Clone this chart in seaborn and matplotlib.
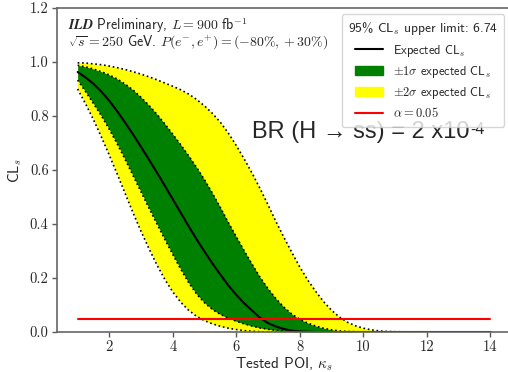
import matplotlib
matplotlib.use('Agg')
import matplotlib.pyplot as plt
import seaborn as sns
from matplotlib.patches import Patch
from matplotlib.lines import Line2D

# --- Data ---
poi = [1.0, 1.25, 1.5, 1.75, 2.0, 2.25, 2.5, 2.75, 3.0, 3.25, 3.5, 3.75, 4.0, 4.25,
       4.5, 4.75, 5.0, 5.25, 5.5, 5.75, 6.0, 6.25, 6.5, 6.75, 7.0, 7.25, 7.5, 7.75,
       8.0, 8.25, 8.5, 8.75, 9.0, 9.25, 9.5, 9.75, 10.0, 10.25, 10.5, 10.75, 11.0,
       12.0, 13.0, 14.0]


def pad(vals):
    # curves sit at zero for the rest of the scan
    return vals + [0.0] * (len(poi) - len(vals))


cls_expected = pad([0.963, 0.943, 0.919, 0.89, 0.856, 0.817, 0.775, 0.731, 0.685, 0.638,
                    0.59, 0.541, 0.491, 0.441, 0.391, 0.343, 0.297, 0.253, 0.212, 0.172,
                    0.137, 0.106, 0.079, 0.052, 0.033, 0.02, 0.011, 0.005, 0.002,
                    0.001])
cls_minus1 = pad([0.933, 0.89, 0.846, 0.8, 0.75, 0.696, 0.638, 0.578, 0.518, 0.458,
                  0.40, 0.342, 0.286, 0.232, 0.182, 0.14, 0.108, 0.083, 0.065, 0.051,
                  0.04, 0.03, 0.022, 0.015, 0.01, 0.006, 0.003, 0.001])
cls_plus1 = pad([0.988, 0.982, 0.974, 0.964, 0.952, 0.937, 0.918, 0.896, 0.869, 0.839,
                 0.806, 0.77, 0.732, 0.693, 0.652, 0.609, 0.563, 0.513, 0.46, 0.405,
                 0.352, 0.30, 0.25, 0.202, 0.16, 0.123, 0.092, 0.066, 0.047, 0.033,
                 0.022, 0.014, 0.008, 0.004, 0.002, 0.001])
cls_minus2 = pad([0.90, 0.845, 0.786, 0.722, 0.654, 0.584, 0.512, 0.44, 0.372, 0.308,
                  0.248, 0.194, 0.148, 0.11, 0.08, 0.058, 0.042, 0.03, 0.021, 0.014,
                  0.009, 0.005, 0.003, 0.001])
cls_plus2 = pad([0.997, 0.996, 0.993, 0.99, 0.985, 0.979, 0.972, 0.964, 0.955, 0.945,
                 0.934, 0.922, 0.91, 0.897, 0.881, 0.861, 0.837, 0.809, 0.776, 0.736,
                 0.69, 0.64, 0.587, 0.53, 0.47, 0.408, 0.35, 0.294, 0.24, 0.192,
                 0.15, 0.112, 0.08, 0.055, 0.036, 0.023, 0.014, 0.008, 0.004, 0.002,
                 0.001])
alpha_level = 0.05
upper_limit = 6.74

xticks = [2, 4, 6, 8, 10, 12, 14]
yticks = [0.0, 0.2, 0.4, 0.6, 0.8, 1.0, 1.2]

# --- Style ---
sns.set_style('ticks')
plt.rcParams['font.family'] = ['cmss10', 'DejaVu Sans']
plt.rcParams['mathtext.fontset'] = 'cm'
plt.rcParams['axes.formatter.use_mathtext'] = True
plt.rcParams['axes.unicode_minus'] = False

fig = plt.figure(figsize=(5.08, 3.72), dpi=100)
ax = fig.add_axes([57 / 508, 40 / 372, 454 / 508, 324 / 372])

ax.fill_between(poi, cls_minus2, cls_plus2, color='yellow', lw=0)
ax.fill_between(poi, cls_minus1, cls_plus1, color='green', lw=0)
for edge in [cls_minus2, cls_plus2, cls_minus1, cls_plus1]:
    ax.plot(poi, edge, color='black', ls=':', lw=1.2)
sns.lineplot(x=poi, y=cls_expected, color='black', lw=1.5, ax=ax)
sns.lineplot(x=[poi[0], poi[-1]], y=[alpha_level, alpha_level], color='red', lw=1.5, ax=ax)

ax.set_xlim(0.35, 14.65)
ax.set_ylim(0, 1.2)
ax.set_xticks(xticks)
ax.set_yticks(yticks)
ax.set_xticklabels([str(t) for t in xticks], family='cmr10')
ax.set_yticklabels([f'{t:.1f}' for t in yticks], family='cmr10')
ax.tick_params(labelsize=10.5, length=3.5, width=1, color='0.35', direction='out', pad=2.5)
for sp in ax.spines.values():
    sp.set_color('0.4')
    sp.set_linewidth(1.2)

ax.set_xlabel(r'Tested POI, $\kappa_s$', fontsize=11, labelpad=1)
ax.set_ylabel(r'CL$_s$', fontsize=11, labelpad=4)

ax.text(0.024, 0.975,
        r'$\mathbfit{ILD}$ Preliminary, $L = 900$ fb$^{-1}$' + '\n'
        + r'$\sqrt{s} = 250$ GeV. $P(e^{-}, e^{+}) = (-80\%, +30\%)$',
        transform=ax.transAxes, va='top', ha='left', fontsize=10, linespacing=0.9)

br = ax.text(0.43, 0.599, 'BR (H → ss) = 2 x10', transform=ax.transAxes,
             fontsize=17, family='Liberation Sans', va='baseline', ha='left')
ax.annotate('-4', xy=(1.0, 1.0), xycoords=br, xytext=(0.5, -1), textcoords='offset points',
            fontsize=11.5, family='Liberation Sans', va='top', ha='left')

handles = [Line2D([], [], color='black', lw=1.5),
           Patch(color='green'), Patch(color='yellow'),
           Line2D([], [], color='red', lw=1.5)]
labels = [r'Expected CL$_s$', r'$\pm1\sigma$ expected CL$_s$',
          r'$\pm2\sigma$ expected CL$_s$', r'$\alpha = 0.05$']
leg = ax.legend(handles, labels, loc='upper right', bbox_to_anchor=(0.985, 0.981),
                borderaxespad=0,
                title=f'95% CL$_s$ upper limit: {upper_limit}', fontsize=9,
                title_fontsize=9.7, frameon=True, handlelength=2.3, labelspacing=0.42,
                borderpad=0.5)
leg.get_frame().set_edgecolor('0.8')

fig.savefig('out.png', dpi=100)
